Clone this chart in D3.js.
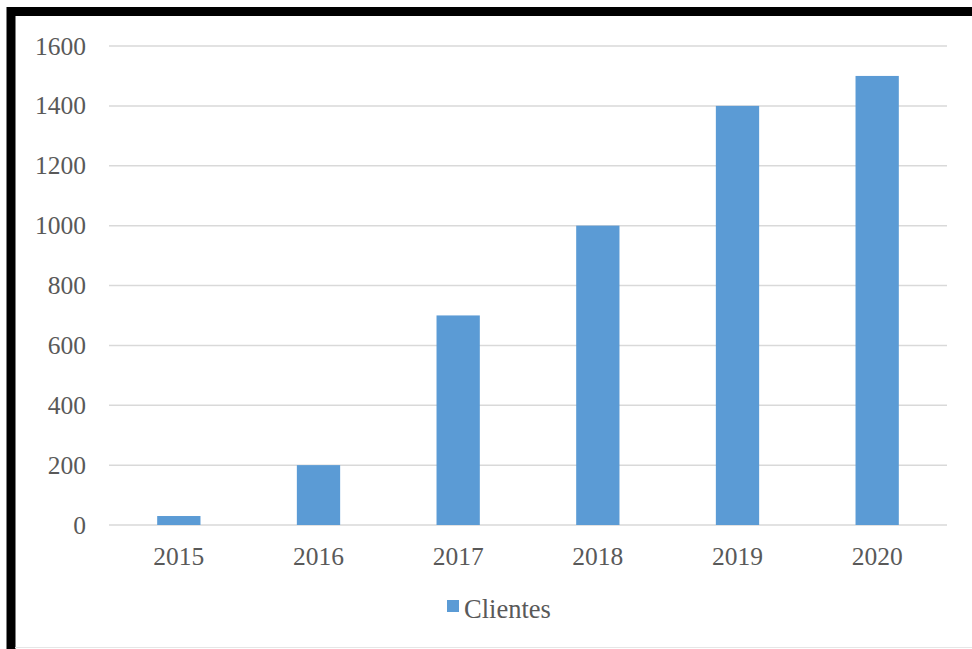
<!DOCTYPE html>
<html>
<head>
<meta charset="utf-8">
<script src="https://cdn.jsdelivr.net/npm/d3@7"></script>
<style>
  html, body { margin: 0; padding: 0; background: #fff; }
  svg { display: block; }
</style>
</head>
<body>
<div id="chart"></div>
<script>
// Data
const years = ["2015", "2016", "2017", "2018", "2019", "2020"];
const clientes = [30, 200, 700, 1000, 1400, 1500];
const yTicks = [0, 200, 400, 600, 800, 1000, 1200, 1400, 1600];
const seriesName = "Clientes";

const width = 972;
const height = 649;

const svg = d3.select("#chart")
  .append("svg")
  .attr("width", width)
  .attr("height", height)
  .style("font-family", "'Liberation Serif', 'Times New Roman', serif");

// frame (thick black border, clipped on right and bottom)
svg.append("rect")
  .attr("x", 11).attr("y", 11.5)
  .attr("width", width + 20).attr("height", height + 20)
  .attr("fill", "#fff")
  .attr("stroke", "#000")
  .attr("stroke-width", 9);

// faint gray line near bottom edge
svg.append("line")
  .attr("x1", 15).attr("x2", width)
  .attr("y1", 647.5).attr("y2", 647.5)
  .attr("stroke", "#e6e6e6").attr("stroke-width", 1);

const x = d3.scaleBand()
  .domain(years)
  .range([109, 947])
  .paddingInner(0.69)
  .paddingOuter(0.345);

const y = d3.scaleLinear()
  .domain([0, 1600])
  .range([525, 46]);

// gridlines
svg.append("g")
  .selectAll("line")
  .data(yTicks)
  .join("line")
  .attr("x1", 109).attr("x2", 947)
  .attr("y1", d => y(d)).attr("y2", d => y(d))
  .attr("stroke", "#d9d9d9")
  .attr("stroke-width", 1.5);

// y labels
svg.append("g")
  .selectAll("text")
  .data(yTicks)
  .join("text")
  .attr("x", 86)
  .attr("y", d => y(d) + 8.5)
  .attr("text-anchor", "end")
  .style("font-size", "25.5px")
  .style("fill", "#595959")
  .text(d => d);

// bars
svg.append("g")
  .selectAll("rect")
  .data(years)
  .join("rect")
  .attr("x", d => x(d))
  .attr("width", x.bandwidth())
  .attr("y", (d, i) => y(clientes[i]))
  .attr("height", (d, i) => y(0) - y(clientes[i]))
  .attr("fill", "#5b9bd5");

// x labels
svg.append("g")
  .selectAll("text")
  .data(years)
  .join("text")
  .attr("x", d => x(d) + x.bandwidth() / 2)
  .attr("y", 565)
  .attr("text-anchor", "middle")
  .style("font-size", "25.5px")
  .style("fill", "#595959")
  .text(d => d);

// legend
const legend = svg.append("g");
legend.append("rect")
  .attr("x", 447).attr("y", 600)
  .attr("width", 12).attr("height", 12)
  .attr("fill", "#5b9bd5");
legend.append("text")
  .attr("x", 464).attr("y", 618)
  .style("font-size", "26.5px")
  .style("fill", "#595959")
  .text(seriesName);
</script>
</body>
</html>
